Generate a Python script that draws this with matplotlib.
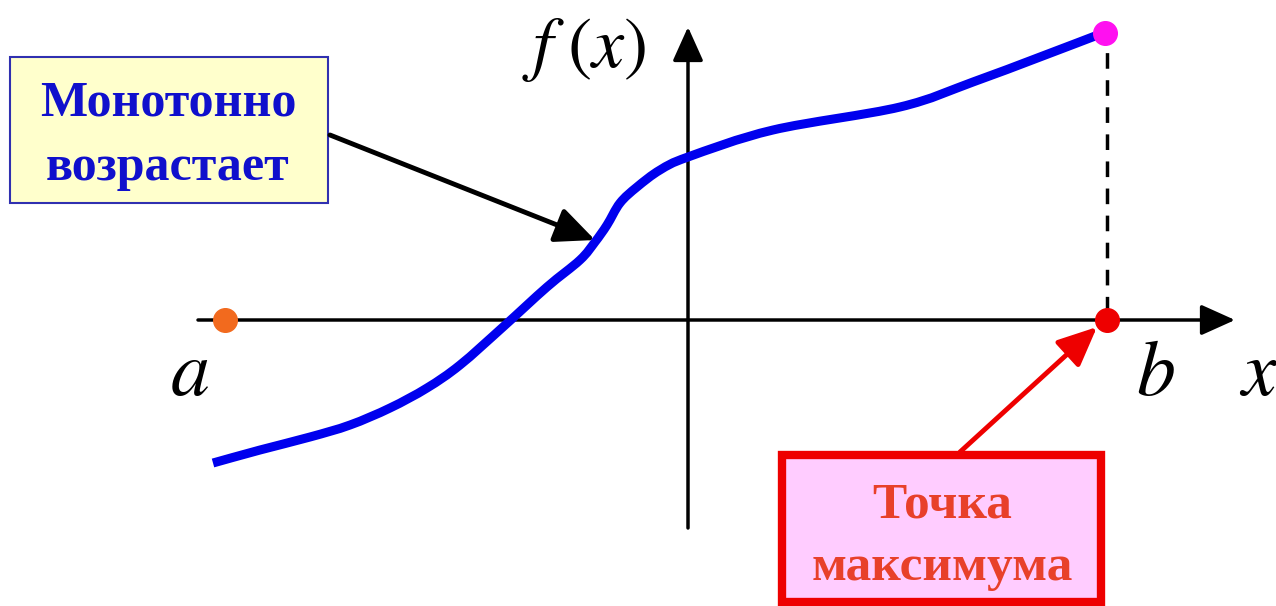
import matplotlib
matplotlib.use("Agg")
import matplotlib.pyplot as plt
from matplotlib.patches import Rectangle, PathPatch
from matplotlib.path import Path

plt.rcParams['mathtext.fontset'] = 'stix'

# кривая f(x), начало координат в точке пересечения осей
curve_x = [-475, -428, -378, -338, -298, -261, -228, -185, -141, -108, -93, -81,
           -68, -51, -28, 0, 85, 212, 285, 352, 415]
curve_y = [-143, -130, -117, -105, -88, -68, -45, -7, 33, 60, 78, 95,
           117, 133, 150, 163, 190, 213, 238, 263, 287]

a_x = -463
b_x = 419
f_b = 287

label_box1 = ["Монотонно", "возрастает"]
label_box2 = ["Точка", "максимума"]

fig = plt.figure(figsize=(12.76, 6.06), dpi=100)
ax = fig.add_axes([0, 0, 1, 1])
ax.set_xlim(-688, 588)
ax.set_ylim(-286, 320)
ax.axis('off')

def arrow(start, tip, color, lw, scale):
    ax.annotate('', xy=tip, xytext=start,
                arrowprops=dict(arrowstyle='-|>,head_length=1.0,head_width=0.45',
                                mutation_scale=scale, lw=lw, color=color,
                                shrinkA=0, shrinkB=0))

def smooth_path(xs, ys):
    # сглаживание через кривые Безье (Catmull-Rom), точки остаются исходными
    pts = list(zip(xs, ys))
    verts = [pts[0]]
    codes = [Path.MOVETO]
    n = len(pts)
    for i in range(n - 1):
        p0 = pts[i - 1] if i > 0 else pts[i]
        p1 = pts[i]
        p2 = pts[i + 1]
        p3 = pts[i + 2] if i + 2 < n else pts[i + 1]
        c1 = (p1[0] + (p2[0] - p0[0]) / 6, p1[1] + (p2[1] - p0[1]) / 6)
        c2 = (p2[0] - (p3[0] - p1[0]) / 6, p2[1] - (p3[1] - p1[1]) / 6)
        verts += [c1, c2, p2]
        codes += [Path.CURVE4] * 3
    return Path(verts, codes)

# оси
arrow((-490, 0), (547, 0), 'black', 2.5, 21)
arrow((0, -208), (0, 293), 'black', 2.5, 21)

# пунктир от точки b до f(b)
ax.plot([b_x, b_x], [8, f_b - 10], color='black', lw=2.5, linestyle=(0, (4.5, 3.3)))

ax.add_patch(PathPatch(smooth_path(curve_x, curve_y), facecolor='none',
                       edgecolor='#0000EE', lw=6.5, capstyle='butt',
                       joinstyle='round', zorder=3))

ax.plot([a_x], [0], 'o', color='#F26A1E', ms=17, zorder=4)
ax.plot([b_x], [0], 'o', color='#EE0000', ms=17, zorder=4)
ax.plot([b_x - 2], [f_b], 'o', color='#FF10F0', ms=17, zorder=4)

# подписи
ax.text(-104, 253, r'$f\;(x)$', fontsize=52, ha='center', va='baseline')
ax.text(-498, -75, r'$a$', fontsize=56, ha='center', va='baseline')
ax.text(467, -75, r'$b$', fontsize=56, ha='center', va='baseline')
ax.text(570, -75, r'$x$', fontsize=56, ha='center', va='baseline')

# рамка "Монотонно возрастает"
ax.add_patch(Rectangle((-678, 117), 318, 146, facecolor='#FFFFCC',
                       edgecolor='#3030B0', lw=1.5, zorder=2))
for txt, yb in zip(label_box1, [205, 140]):
    ax.text(-520, yb, txt, fontsize=36, family='Liberation Serif', weight='bold',
            color='#1010CC', ha='center', va='baseline', zorder=3)
arrow((-358, 185), (-93, 80), 'black', 3.5, 24)

# рамка "Точка максимума"
ax.add_patch(Rectangle((94, -282), 319, 147, facecolor='#FFCCFF',
                       edgecolor='#EE0000', lw=6, zorder=2))
for txt, yb in zip(label_box2, [-198, -260]):
    ax.text(254, yb, txt, fontsize=37, family='Liberation Serif', weight='bold',
            color='#E8402A', ha='center', va='baseline', zorder=3)
arrow((272, -132), (409, -7), '#EE0000', 3.5, 24)

fig.savefig('out.png', dpi=100)
